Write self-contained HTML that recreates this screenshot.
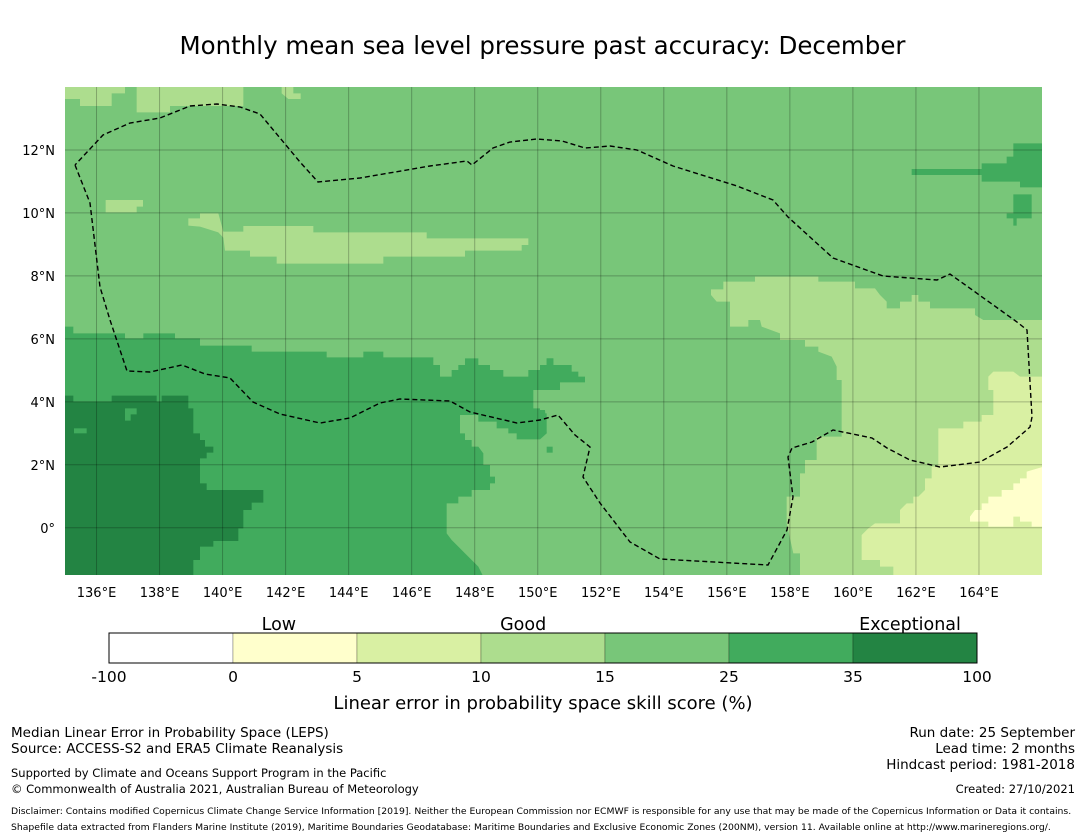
<!DOCTYPE html>
<html><head><meta charset="utf-8">
<style>
html,body{margin:0;padding:0;background:#fff;}
body{width:1085px;height:839px;overflow:hidden;position:relative;font-family:"DejaVu Sans","Liberation Sans",sans-serif;color:#000;}
.t{position:absolute;white-space:nowrap;}
</style></head>
<body>
<div class="t" style="left:0;width:1085px;text-align:center;top:31px;font-size:24.5px;">Monthly mean sea level pressure past accuracy: December</div>
<svg id="map" width="1085" height="839" style="position:absolute;left:0;top:0;" xmlns="http://www.w3.org/2000/svg"></svg>
<div class="t" style="left:11px;top:725px;font-size:13.5px;line-height:16px;">Median Linear Error in Probability Space (LEPS)<br>Source: ACCESS-S2 and ERA5 Climate Reanalysis</div>
<div class="t" style="left:11px;top:766px;font-size:11.5px;line-height:15.5px;">Supported by Climate and Oceans Support Program in the Pacific<br>© Commonwealth of Australia 2021, Australian Bureau of Meteorology</div>
<div class="t" style="right:10px;top:725px;font-size:13.5px;line-height:16px;text-align:right;">Run date: 25 September<br>Lead time: 2 months<br>Hindcast period: 1981-2018</div>
<div class="t" style="right:10px;top:782px;font-size:11.5px;">Created: 27/10/2021</div>
<div class="t" style="left:11px;top:804px;font-size:9.25px;line-height:16px;">Disclaimer: Contains modified Copernicus Climate Change Service Information [2019]. Neither the European Commission nor ECMWF is responsible for any use that may be made of the Copernicus Information or Data it contains.<br>Shapefile data extracted from Flanders Marine Institute (2019), Maritime Boundaries Geodatabase: Maritime Boundaries and Exclusive Economic Zones (200NM), version 11. Available online at http://www.marineregions.org/.</div>
<script>
// colorbar data
const cbTicks = ["-100","0","5","10","15","25","35","100"];
const cbColors = ["#ffffff","#ffffcc","#d9f0a3","#addd8e","#78c679","#41ab5d","#238443"];
const cbCategories = ["Low","Good","Exceptional"];
const lonTicks = [136,138,140,142,144,146,148,150,152,154,156,158,160,162,164];
const latTicks = [12,10,8,6,4,2,0];

const NS="http://www.w3.org/2000/svg";
const svg=document.getElementById('map');
const X0=65,X1=1042,Y0=87,Y1=575;
const lon2x=l=>X0+(l-135)*(X1-X0)/31;
const lat2y=l=>Y0+(14-l)*(Y1-Y0)/15.5;
function mk(t,a){const e=document.createElementNS(NS,t);for(const k in a)e.setAttribute(k,a[k]);svg.appendChild(e);return e;}
const clip=mk('clipPath',{id:'mc'});
const cr=document.createElementNS(NS,'rect');cr.setAttribute('x',X0);cr.setAttribute('y',Y0);cr.setAttribute('width',X1-X0);cr.setAttribute('height',Y1-Y0);clip.appendChild(cr);
const g=mk('g',{'clip-path':'url(#mc)'});


function poly(pts,fill,name,ox,oy){
  const p=document.createElementNS(NS,'polygon');
  p.setAttribute('points',pts.map(q=>(ox+q[0]/3)+','+(oy+q[1]/3)).join(' '));
  p.setAttribute('fill',fill);
  
  
  g.appendChild(p);
}
const bg=document.createElementNS(NS,'rect');
bg.setAttribute('x',X0);bg.setAttribute('y',Y0);bg.setAttribute('width',X1-X0);bg.setAttribute('height',Y1-Y0);bg.setAttribute('fill','#78c679');


g.appendChild(bg);
poly([[15,0],[195,0],[195,40],[155,40],[155,78],[60,78],[60,57],[15,57]],'#addd8e','light-patch-nw',60,80);
poly([[230,0],[550,0],[550,78],[330,78],[330,97],[230,97]],'#addd8e','light-patch-n',60,80);
poly([[665,20],[700,20],[700,40],[722,40],[722,57],[685,57],[665,40]],'#addd8e','light-patch-n2',60,80);
poly([[137,360],[249,360],[249,380],[230,380],[230,397],[137,397]],'#addd8e','light-patch-w',60,80);
poly([[385,415],[420,415],[420,400],[475,400],[490,455],[550,455],[550,438],[760,438],[760,457],[1100,457],[1100,475],[1405,475],[1405,495],[1385,495],[1385,512],[1215,512],[1215,530],[970,530],[970,551],[650,551],[650,530],[570,530],[570,512],[495,512],[490,473],[475,457],[420,440],[385,437]],'#addd8e','light-band',60,80);
poly([[513,628],[550,628],[550,605],[645,605],[645,590],[835,590],[835,605],[945,605],[945,625],[1005,625],[1020,645],[1040,665],[1040,685],[1080,685],[1080,665],[1115,665],[1115,645],[1135,645],[1135,665],[1170,665],[1170,685],[1305,685],[1305,705],[1330,720],[1510,720],[1510,1490],[780,1490],[780,1420],[760,1420],[740,1330],[740,1250],[780,1250],[780,1180],[795,1180],[795,1140],[830,1140],[830,1070],[905,1070],[905,900],[890,900],[890,860],[875,830],[835,815],[835,800],[795,800],[795,780],[720,780],[720,760],[665,740],[660,720],[625,720],[625,740],[570,740],[570,665],[530,665],[513,645]],'#addd8e','light-region-se',540,80);
poly([[1345,890],[1360,875],[1420,875],[1440,890],[1510,890],[1510,1490],[1060,1490],[1060,1460],[1020,1460],[1020,1440],[965,1440],[965,1365],[985,1345],[1005,1330],[1080,1330],[1080,1290],[1100,1270],[1120,1270],[1120,1250],[1135,1250],[1155,1230],[1155,1195],[1175,1195],[1175,1160],[1195,1160],[1195,1045],[1270,1045],[1270,1025],[1325,1025],[1325,1005],[1360,1005],[1360,930],[1345,930]],'#d9f0a3','pale-region-se',540,80);
poly([[1290,1310],[1305,1290],[1325,1290],[1325,1270],[1345,1270],[1345,1250],[1385,1250],[1385,1230],[1420,1230],[1420,1210],[1440,1210],[1440,1195],[1460,1195],[1460,1175],[1510,1160],[1510,1340],[1475,1340],[1475,1325],[1440,1325],[1440,1310],[1420,1310],[1420,1340],[1345,1340],[1345,1325],[1290,1325]],'#ffffcc','lowest-region-se',540,80);
poly([[1420,190],[1510,190],[1510,322],[1440,322],[1440,305],[1325,305],[1325,285],[1115,285],[1115,267],[1325,267],[1325,250],[1400,250],[1400,230],[1420,230]],'#41ab5d','high-patch-ne',540,80);
poly([[1420,343],[1475,343],[1475,415],[1430,415],[1430,437],[1420,437],[1420,415],[1400,415],[1400,400],[1420,400]],'#41ab5d','high-patch-ne2',540,80);
poly([[0,855],[20,855],[20,835],[40,835],[40,855],[95,855],[95,875],[115,875],[115,890],[135,890],[135,907],[55,907],[55,930],[0,930]],'#41ab5d','high-patch-c',540,80);
poly([[0,990],[15,990],[20,1060],[0,1078]],'#41ab5d','high-patch-c2',540,80);
poly([[20,1100],[38,1100],[38,1118],[20,1118]],'#41ab5d','high-patch-c3',540,80);
poly([[15,740],[40,740],[40,760],[195,760],[195,775],[250,775],[250,760],[345,760],[345,775],[420,775],[420,797],[575,797],[575,815],[800,815],[800,832],[910,832],[910,815],[970,815],[970,832],[1120,832],[1120,855],[1140,855],[1140,890],[1175,890],[1175,870],[1195,870],[1195,855],[1215,855],[1215,835],[1255,835],[1255,855],[1290,855],[1290,870],[1330,870],[1330,890],[1405,890],[1405,870],[1440,870],[1460,855],[1460,835],[1480,835],[1480,855],[1500,855],[1500,930],[1420,930],[1420,985],[1440,985],[1440,1000],[1460,1000],[1460,1060],[1440,1060],[1440,1078],[1370,1078],[1370,1060],[1345,1060],[1345,1045],[1310,1045],[1310,1025],[1255,1025],[1255,1005],[1200,1005],[1200,1060],[1215,1060],[1215,1080],[1235,1080],[1235,1100],[1255,1100],[1270,1120],[1270,1155],[1290,1155],[1290,1190],[1305,1190],[1305,1210],[1290,1210],[1290,1230],[1235,1230],[1235,1250],[1195,1250],[1195,1270],[1160,1270],[1160,1360],[1175,1380],[1195,1400],[1215,1420],[1235,1440],[1255,1460],[1270,1490],[0,1490],[0,740]],'#41ab5d','high-region-sw',60,80);
poly([[0,947],[40,947],[40,965],[155,965],[155,947],[290,947],[290,965],[305,965],[305,947],[385,947],[385,985],[400,985],[400,1060],[420,1060],[420,1080],[435,1080],[435,1100],[460,1100],[460,1118],[440,1118],[440,1135],[420,1135],[420,1210],[440,1210],[440,1230],[610,1230],[610,1268],[575,1268],[575,1290],[550,1290],[550,1345],[535,1345],[535,1383],[460,1383],[460,1400],[420,1400],[420,1440],[400,1440],[400,1490],[0,1490]],'#238443','exceptional-region-sw',60,80);
poly([[195,985],[230,985],[230,1003],[212,1003],[212,1022],[195,1022]],'#41ab5d','high-patch-sw',60,80);
poly([[42,1045],[80,1045],[80,1060],[42,1060]],'#41ab5d','high-patch-sw2',60,80);
lonTicks.forEach(l=>{const x=lon2x(l);
  const e=document.createElementNS(NS,'line');e.setAttribute('x1',x);e.setAttribute('x2',x);e.setAttribute('y1',Y0);e.setAttribute('y2',Y1);e.setAttribute('stroke','rgba(0,0,0,0.25)');e.setAttribute('stroke-width','1');
  
  
  g.appendChild(e);
  const t=mk('text',{x:x,y:597,'font-size':'13','text-anchor':'middle','font-family':'DejaVu Sans, sans-serif'});t.textContent=l+'°E';
  
  
});
latTicks.forEach(l=>{const y=lat2y(l);
  const e=document.createElementNS(NS,'line');e.setAttribute('x1',X0);e.setAttribute('x2',X1);e.setAttribute('y1',y);e.setAttribute('y2',y);e.setAttribute('stroke','rgba(0,0,0,0.25)');e.setAttribute('stroke-width','1');
  
  
  g.appendChild(e);
  const t=mk('text',{x:55,y:y+5,'font-size':'13','text-anchor':'end','font-family':'DejaVu Sans, sans-serif'});t.textContent=l===0?'0°':l+'°N';
  
  
});
const eez=[[75,165],[90,203],[100,287],[110,320],[127,371],[150,372],[182,365],[205,374],[230,378],[253,402],[280,414],[320,423],[350,418],[380,403],[400,399],[450,401],[470,412],[517,423],[540,420],[558,415],[575,435],[590,447],[583,477],[600,503],[630,542],[660,559],[768,565],[787,530],[793,497],[788,457],[792,448],[812,442],[833,430],[872,438],[887,448],[910,460],[940,467],[980,462],[1007,447],[1030,427],[1032,417],[1027,330],[1017,322],[950,274],[937,280],[883,276],[833,258],[788,217],[773,200],[737,186],[673,166],[637,150],[610,146],[585,148],[562,141],[537,139],[510,142],[493,148],[472,165],[467,161],[430,166],[360,178],[318,182],[300,162],[260,114],[240,107],[217,104],[190,106],[160,118],[130,123],[103,135],[75,165]];
const pl=document.createElementNS(NS,'polyline');
pl.setAttribute('points',eez.map(p=>p.join(',')).join(' '));
pl.setAttribute('fill','none');pl.setAttribute('stroke','#000');pl.setAttribute('stroke-width','1.4');pl.setAttribute('stroke-dasharray','5,3');


g.appendChild(pl);
const CBX=109,CBW=868,CBY=633,CBH=30,seg=CBW/cbColors.length;
cbColors.forEach((c,i)=>{const r=mk('rect',{x:CBX+i*seg,y:CBY,width:seg,height:CBH,fill:c,stroke:'rgba(0,0,0,0.25)','stroke-width':'1'});
  
  });
const ob=mk('rect',{x:CBX,y:CBY,width:CBW,height:CBH,fill:'none',stroke:'#000','stroke-width':'1'});


cbTicks.forEach((t,i)=>{const e=mk('text',{x:CBX+i*seg,y:682,'font-size':'15.5','text-anchor':'middle','font-family':'DejaVu Sans, sans-serif'});e.textContent=t;
  
  });
cbCategories.forEach((t,i)=>{const e=mk('text',{x:CBX+[1.37,3.34,6.46][i]*seg,y:630,'font-size':'17.5','text-anchor':'middle','font-family':'DejaVu Sans, sans-serif'});e.textContent=t;
  
  });
const al=mk('text',{x:543,y:709,'font-size':'18','text-anchor':'middle','font-family':'DejaVu Sans, sans-serif'});al.textContent='Linear error in probability space skill score (%)';


</script>
</body></html>
